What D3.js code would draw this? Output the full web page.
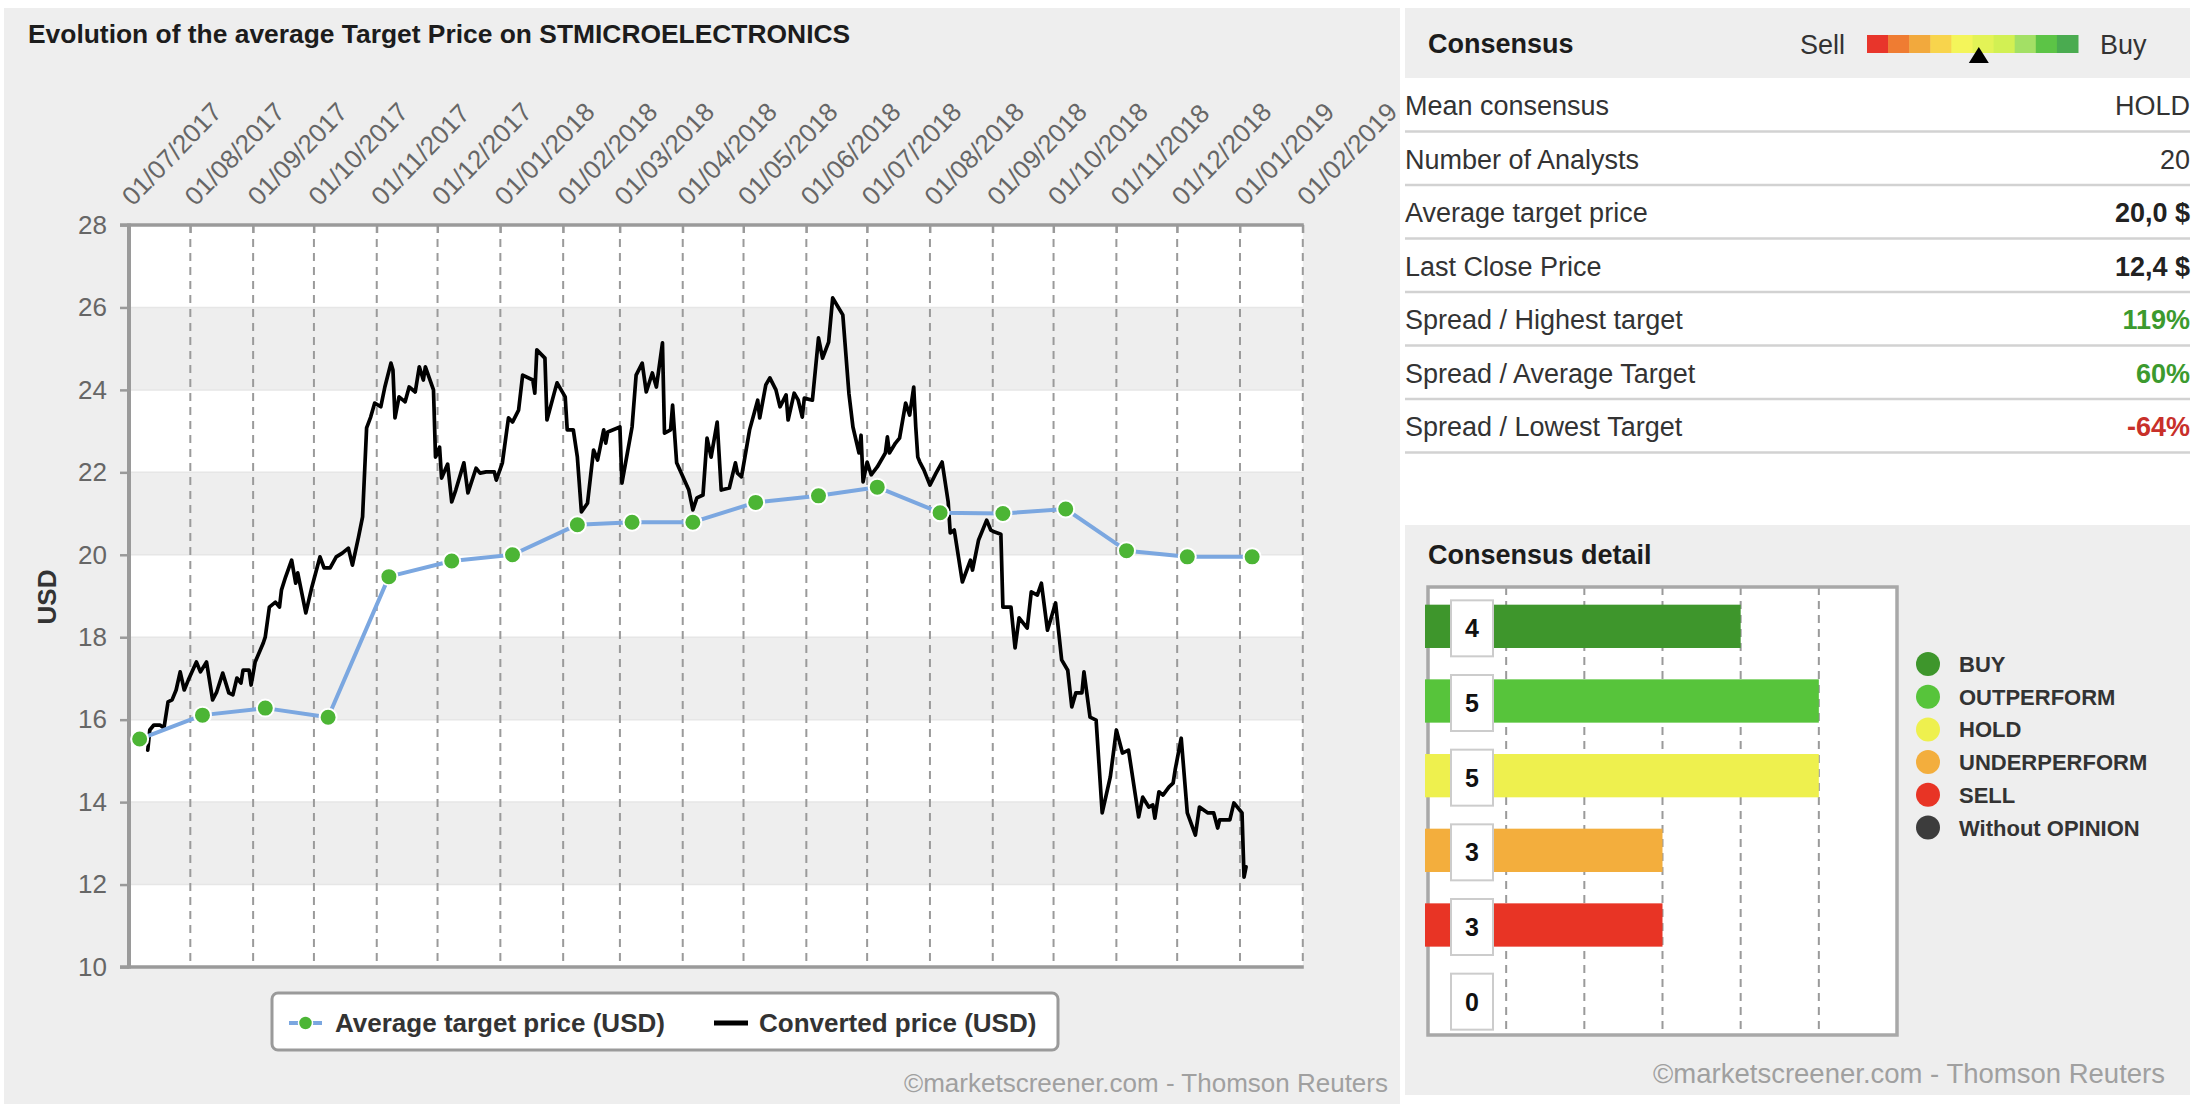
<!DOCTYPE html>
<html>
<head>
<meta charset="utf-8">
<script src="https://cdn.jsdelivr.net/npm/d3@7"></script>
<style>
  html, body { margin: 0; padding: 0; background: #ffffff; }
  svg { display: block; font-family: "Liberation Sans", Arial, Helvetica, sans-serif; }
</style>
</head>
<body>
<svg id="chart" width="2204" height="1104"></svg>
<script>
// ---------------- DATA ----------------
const chartTitle = "Evolution of the average Target Price on STMICROELECTRONICS";
const xTickLabels = ["01/07/2017","01/08/2017","01/09/2017","01/10/2017","01/11/2017","01/12/2017",
  "01/01/2018","01/02/2018","01/03/2018","01/04/2018","01/05/2018","01/06/2018","01/07/2018",
  "01/08/2018","01/09/2018","01/10/2018","01/11/2018","01/12/2018","01/01/2019","01/02/2019"];
const yTicks = [10, 12, 14, 16, 18, 20, 22, 24, 26, 28];
const bandRanges = [[12, 14], [16, 18], [20, 22], [24, 26]];

const targetDates = ["2017-07-07","2017-08-07","2017-09-07","2017-10-08","2017-11-07","2017-12-08",
  "2018-01-07","2018-02-08","2018-03-07","2018-04-06","2018-05-07","2018-06-07","2018-07-06",
  "2018-08-06","2018-09-06","2018-10-07","2018-11-06","2018-12-06","2019-01-07"];
const targetValues = [15.53, 16.11, 16.28, 16.06, 19.47, 19.85, 20.00, 20.73, 20.79, 20.79, 21.27,
  21.43, 21.64, 21.02, 21.00, 21.11, 20.10, 19.95, 19.95];

const priceSeries = [
  ["2017-07-11",15.26],["2017-07-12",15.75],["2017-07-14",15.87],["2017-07-17",15.87],["2017-07-19",15.80],
  ["2017-07-21",16.43],["2017-07-23",16.48],["2017-07-25",16.72],["2017-07-27",17.16],["2017-07-29",16.72],
  ["2017-07-31",16.96],["2017-08-04",17.40],["2017-08-06",17.16],["2017-08-09",17.40],["2017-08-12",16.48],
  ["2017-08-14",16.67],["2017-08-17",17.13],["2017-08-20",16.65],["2017-08-22",16.60],["2017-08-24",17.01],
  ["2017-08-26",16.89],["2017-08-27",17.20],["2017-08-30",17.20],["2017-08-31",16.84],["2017-09-02",17.40],
  ["2017-09-06",17.86],["2017-09-07",18.01],["2017-09-09",18.73],["2017-09-12",18.85],["2017-09-14",18.73],
  ["2017-09-15",19.15],["2017-09-17",19.46],["2017-09-20",19.87],["2017-09-22",19.31],["2017-09-23",19.56],
  ["2017-09-27",18.59],["2017-09-30",19.22],["2017-10-04",19.95],["2017-10-06",19.68],["2017-10-09",19.68],
  ["2017-10-12",19.95],["2017-10-15",20.04],["2017-10-18",20.16],["2017-10-20",19.75],["2017-10-23",20.43],
  ["2017-10-25",20.92],["2017-10-27",23.08],["2017-10-29",23.34],["2017-10-31",23.68],["2017-11-03",23.59],
  ["2017-11-05",24.07],["2017-11-08",24.65],["2017-11-09",24.48],["2017-11-10",23.32],["2017-11-12",23.83],
  ["2017-11-15",23.71],["2017-11-17",24.07],["2017-11-20",23.95],["2017-11-22",24.56],["2017-11-24",24.24],
  ["2017-11-25",24.56],["2017-11-29",24.00],["2017-11-30",22.37],["2017-12-02",22.61],["2017-12-03",21.86],
  ["2017-12-06",22.20],["2017-12-08",21.28],["2017-12-10",21.57],["2017-12-14",22.23],["2017-12-16",21.50],
  ["2017-12-20",22.10],["2017-12-22",21.98],["2017-12-25",22.01],["2017-12-29",22.01],["2017-12-30",21.81],
  ["2018-01-02",22.23],["2018-01-05",23.32],["2018-01-07",23.22],["2018-01-10",23.51],["2018-01-12",24.36],
  ["2018-01-17",24.24],["2018-01-18",23.92],["2018-01-19",24.97],["2018-01-23",24.77],["2018-01-24",23.27],
  ["2018-01-28",24.00],["2018-01-29",24.17],["2018-02-02",23.83],["2018-02-03",23.03],["2018-02-06",23.03],
  ["2018-02-08",22.37],["2018-02-10",21.04],["2018-02-13",21.25],["2018-02-16",22.54],["2018-02-18",22.30],
  ["2018-02-21",23.03],["2018-02-22",22.71],["2018-02-23",22.98],["2018-03-01",23.10],["2018-03-02",21.74],
  ["2018-03-07",23.10],["2018-03-09",24.36],["2018-03-12",24.65],["2018-03-14",23.95],["2018-03-17",24.41],
  ["2018-03-19",24.07],["2018-03-22",25.14],["2018-03-23",22.95],["2018-03-26",23.03],["2018-03-27",23.63],
  ["2018-03-29",22.23],["2018-04-04",21.57],["2018-04-06",21.09],["2018-04-08",21.38],["2018-04-11",21.45],
  ["2018-04-13",22.83],["2018-04-15",22.37],["2018-04-18",23.22],["2018-04-20",21.57],["2018-04-24",21.62],
  ["2018-04-27",22.23],["2018-04-28",21.98],["2018-04-30",21.89],["2018-05-04",23.03],["2018-05-08",23.75],
  ["2018-05-09",23.32],["2018-05-12",24.12],["2018-05-14",24.29],["2018-05-17",24.00],["2018-05-19",23.59],
  ["2018-05-22",23.88],["2018-05-23",23.27],["2018-05-26",23.92],["2018-05-28",23.75],["2018-05-30",23.34],
  ["2018-05-31",23.80],["2018-06-04",23.75],["2018-06-07",25.26],["2018-06-09",24.77],["2018-06-12",25.16],
  ["2018-06-14",26.23],["2018-06-19",25.82],["2018-06-22",23.92],["2018-06-24",23.10],["2018-06-27",22.47],
  ["2018-06-28",22.90],["2018-06-29",21.77],["2018-07-01",22.25],["2018-07-03",21.94],["2018-07-06",22.13],
  ["2018-07-10",22.47],["2018-07-11",22.86],["2018-07-12",22.47],["2018-07-15",22.71],["2018-07-17",22.83],
  ["2018-07-20",23.68],["2018-07-22",23.39],["2018-07-24",24.07],["2018-07-25",23.10],["2018-07-26",22.37],
  ["2018-07-27",22.25],["2018-07-29",22.06],["2018-08-01",21.69],["2018-08-04",21.98],["2018-08-07",22.25],
  ["2018-08-10",21.28],["2018-08-11",20.53],["2018-08-13",20.60],["2018-08-17",19.34],["2018-08-21",19.87],
  ["2018-08-22",19.63],["2018-08-25",20.36],["2018-08-29",20.84],["2018-08-31",20.60],["2018-09-02",20.55],
  ["2018-09-05",20.50],["2018-09-06",18.73],["2018-09-10",18.73],["2018-09-12",17.74],["2018-09-14",18.47],
  ["2018-09-18",18.22],["2018-09-20",19.10],["2018-09-23",19.02],["2018-09-25",19.31],["2018-09-28",18.17],
  ["2018-10-02",18.83],["2018-10-05",17.45],["2018-10-08",17.20],["2018-10-10",16.31],["2018-10-12",16.65],
  ["2018-10-15",16.65],["2018-10-16",17.16],["2018-10-19",16.06],["2018-10-22",15.99],["2018-10-25",13.74],
  ["2018-10-29",14.61],["2018-11-01",15.75],["2018-11-04",15.19],["2018-11-07",15.26],["2018-11-12",13.64],
  ["2018-11-14",14.12],["2018-11-17",13.88],["2018-11-19",13.93],["2018-11-20",13.61],["2018-11-22",14.25],
  ["2018-11-24",14.17],["2018-11-27",14.37],["2018-11-29",14.46],["2018-11-30",14.78],["2018-12-03",15.55],
  ["2018-12-06",13.74],["2018-12-10",13.20],["2018-12-12",13.88],["2018-12-16",13.74],["2018-12-19",13.74],
  ["2018-12-21",13.37],["2018-12-22",13.57],["2018-12-27",13.57],["2018-12-29",13.98],["2019-01-02",13.74],
  ["2019-01-03",12.18],["2019-01-04",12.43]
];

const legendLabels = ["Average target price (USD)", "Converted price (USD)"];
const yAxisTitle = "USD";
const watermark = "\u00A9marketscreener.com - Thomson Reuters";

const gaugeColors = ["#e8352b","#ef7c32","#f2a93d","#f8d44c","#f4f55a","#e3f356","#d2f053","#a3e065","#5cc446","#4aab50"];
const gaugePosition = 5.3; // index position of the marker on the 10-step scale

const tableLabels = ["Mean consensus","Number of Analysts","Average target price","Last Close Price",
  "Spread / Highest target","Spread / Average Target","Spread / Lowest Target"];
const tableValues = ["HOLD","20","20,0 $","12,4 $","119%","60%","-64%"];
const tableBold = [false,false,true,true,true,true,true];
const tableColors = ["#333333","#333333","#222222","#222222","#3c9a2e","#3c9a2e","#c8302a"];

const ratingLabels = ["BUY","OUTPERFORM","HOLD","UNDERPERFORM","SELL","Without OPINION"];
const ratingCounts = [4, 5, 5, 3, 3, 0];
const ratingColors = ["#3e962c","#57c43b","#eef04e","#f3ae3d","#e83425","#3c3c3c"];

// ---------------- DRAW ----------------
const svg = d3.select("#chart");
const parseISO = d3.timeParse("%Y-%m-%d");
const parseTick = d3.timeParse("%d/%m/%Y");
const FONT = '"Liberation Sans", Arial, Helvetica, sans-serif';

// Left panel background
svg.append("rect").attr("x", 4).attr("y", 8).attr("width", 1396).attr("height", 1096).attr("fill", "#eeeeee");

svg.append("text").attr("x", 28).attr("y", 43)
  .attr("font-size", 26.4).attr("font-weight", "bold").attr("fill", "#1c1c1c")
  .text(chartTitle);

const plot = { left: 127.5, right: 1302.8, top: 225, bottom: 967 };
const tickDates = xTickLabels.map(parseTick);
const x = d3.scaleTime().domain([tickDates[0], tickDates[tickDates.length - 1]]).range([plot.left, plot.right]);
const y = d3.scaleLinear().domain([10, 28]).range([plot.bottom, plot.top]);

// plot background + bands
svg.append("rect").attr("x", plot.left).attr("y", plot.top)
  .attr("width", plot.right - plot.left).attr("height", plot.bottom - plot.top).attr("fill", "#ffffff");
svg.append("g").selectAll("rect").data(bandRanges).join("rect")
  .attr("x", plot.left).attr("width", plot.right - plot.left)
  .attr("y", d => y(d[1])).attr("height", d => y(d[0]) - y(d[1]))
  .attr("fill", "#eeeeee");
svg.append("g").selectAll("line").data(yTicks).join("line")
  .attr("x1", plot.left).attr("x2", plot.right)
  .attr("y1", d => y(d)).attr("y2", d => y(d))
  .attr("stroke", "#e6e6e6").attr("stroke-width", 1.5);

// vertical dashed grid
svg.append("g").selectAll("line").data(tickDates.slice(1)).join("line")
  .attr("x1", d => x(d)).attr("x2", d => x(d))
  .attr("y1", plot.top).attr("y2", plot.bottom)
  .attr("stroke", "#9a9a9a").attr("stroke-width", 2).attr("stroke-dasharray", "8,6");

// top x axis
const xAxis = svg.append("g").attr("transform", `translate(0,${plot.top})`)
  .call(d3.axisTop(x).tickValues(tickDates).tickFormat((d, i) => xTickLabels[i]).tickSize(-8).tickSizeOuter(0));
xAxis.select(".domain").remove();
xAxis.selectAll(".tick line").attr("stroke", "#9a9a9a").attr("stroke-width", 2);
xAxis.selectAll(".tick text")
  .attr("x", 0).attr("y", 0).attr("dy", 0)
  .attr("text-anchor", "start")
  .attr("transform", "translate(5,-18) rotate(-46)")
  .attr("font-size", 26).attr("font-family", FONT).attr("fill", "#666666");

// left y axis
const yAxis = svg.append("g").attr("transform", `translate(${plot.left + 1.5},0)`)
  .call(d3.axisLeft(y).tickValues(yTicks).tickSize(9).tickPadding(13).tickSizeOuter(0));
yAxis.select(".domain").remove();
yAxis.selectAll(".tick line").attr("stroke", "#9a9a9a").attr("stroke-width", 2.5);
yAxis.selectAll(".tick text").attr("font-size", 26).attr("font-family", FONT).attr("fill", "#666666");

// frame lines
svg.append("line").attr("x1", 120).attr("x2", plot.right + 1).attr("y1", plot.top).attr("y2", plot.top)
  .attr("stroke", "#9a9a9a").attr("stroke-width", 3.5);
svg.append("line").attr("x1", 120).attr("x2", plot.right + 1).attr("y1", plot.bottom).attr("y2", plot.bottom)
  .attr("stroke", "#9a9a9a").attr("stroke-width", 3.5);
svg.append("line").attr("x1", plot.left + 1.5).attr("x2", plot.left + 1.5).attr("y1", plot.top - 1.5).attr("y2", plot.bottom + 1.5)
  .attr("stroke", "#9a9a9a").attr("stroke-width", 4);

// y axis title
svg.append("text").attr("transform", "translate(56,597) rotate(-90)")
  .attr("text-anchor", "middle").attr("font-size", 26).attr("font-weight", "bold").attr("fill", "#333333")
  .text(yAxisTitle);

// price line
const priceData = priceSeries.map(d => ({ date: parseISO(d[0]), value: d[1] }));
svg.append("path").datum(priceData)
  .attr("d", d3.line().x(d => x(d.date)).y(d => y(d.value)))
  .attr("fill", "none").attr("stroke", "#000000").attr("stroke-width", 3.7)
  .attr("stroke-linejoin", "round").attr("stroke-linecap", "round");

// target line + markers
const targetData = targetDates.map((d, i) => ({ date: parseISO(d), value: targetValues[i] }));
svg.append("path").datum(targetData)
  .attr("d", d3.line().x(d => x(d.date)).y(d => y(d.value)))
  .attr("fill", "none").attr("stroke", "#7ba7e0").attr("stroke-width", 4)
  .attr("stroke-linejoin", "round");
svg.append("g").selectAll("circle").data(targetData).join("circle")
  .attr("cx", d => x(d.date)).attr("cy", d => y(d.value)).attr("r", 8.5)
  .attr("fill", "#4cb535").attr("stroke", "#ffffff").attr("stroke-width", 2);

// legend
const lg = svg.append("g");
lg.append("rect").attr("x", 272).attr("y", 993).attr("width", 786).attr("height", 57).attr("rx", 6)
  .attr("fill", "#ffffff").attr("stroke", "#9a9a9a").attr("stroke-width", 3);
lg.append("line").attr("x1", 289).attr("x2", 322).attr("y1", 1023).attr("y2", 1023)
  .attr("stroke", "#7ba7e0").attr("stroke-width", 3.8);
lg.append("circle").attr("cx", 305.5).attr("cy", 1023).attr("r", 7)
  .attr("fill", "#4cb535").attr("stroke", "#ffffff").attr("stroke-width", 1.5);
lg.append("text").attr("x", 335).attr("y", 1032).attr("font-size", 26).attr("font-weight", "bold")
  .attr("fill", "#333333").text(legendLabels[0]);
lg.append("line").attr("x1", 714).attr("x2", 748).attr("y1", 1023).attr("y2", 1023)
  .attr("stroke", "#000000").attr("stroke-width", 5);
lg.append("text").attr("x", 759).attr("y", 1032).attr("font-size", 26).attr("font-weight", "bold")
  .attr("fill", "#333333").text(legendLabels[1]);

svg.append("text").attr("x", 1388).attr("y", 1092).attr("text-anchor", "end")
  .attr("font-size", 26).attr("fill", "#a0a0a0").text(watermark);

// ---------------- RIGHT: CONSENSUS ----------------
svg.append("rect").attr("x", 1405).attr("y", 8).attr("width", 785).attr("height", 70).attr("fill", "#eeeeee");
svg.append("text").attr("x", 1428).attr("y", 53).attr("font-size", 27).attr("font-weight", "bold")
  .attr("fill", "#1c1c1c").text("Consensus");
svg.append("text").attr("x", 1800).attr("y", 54).attr("font-size", 27).attr("fill", "#333333").text("Sell");
svg.append("text").attr("x", 2100).attr("y", 54).attr("font-size", 27).attr("fill", "#333333").text("Buy");

const gx = d3.scaleLinear().domain([0, gaugeColors.length]).range([1867, 2078]);
svg.append("g").selectAll("rect").data(gaugeColors).join("rect")
  .attr("x", (d, i) => gx(i)).attr("width", (d, i) => gx(i + 1) - gx(i) + 0.5)
  .attr("y", 35).attr("height", 18).attr("fill", d => d);
const mx = gx(gaugePosition);
svg.append("path").attr("d", `M${mx - 10},63 L${mx + 10},63 L${mx},47 Z`).attr("fill", "#000000");

const rowY = d3.scaleLinear().domain([0, 1]).range([105, 158.5]);
const tbl = svg.append("g");
tbl.selectAll("text.lab").data(tableLabels).join("text").attr("class", "lab")
  .attr("x", 1405).attr("y", (d, i) => rowY(i) + 10)
  .attr("font-size", 27).attr("fill", "#333333").text(d => d);
tbl.selectAll("text.val").data(tableValues).join("text").attr("class", "val")
  .attr("x", 2190).attr("y", (d, i) => rowY(i) + 10).attr("text-anchor", "end")
  .attr("font-size", 27).attr("font-weight", (d, i) => tableBold[i] ? "bold" : "normal")
  .attr("fill", (d, i) => tableColors[i]).text(d => d);
tbl.selectAll("line").data(tableLabels).join("line")
  .attr("x1", 1405).attr("x2", 2190)
  .attr("y1", (d, i) => rowY(i) + 26.5).attr("y2", (d, i) => rowY(i) + 26.5)
  .attr("stroke", "#d2d2d2").attr("stroke-width", 2.5);

// ---------------- RIGHT: CONSENSUS DETAIL ----------------
svg.append("rect").attr("x", 1405).attr("y", 525).attr("width", 785).attr("height", 570).attr("fill", "#eeeeee");
svg.append("text").attr("x", 1428).attr("y", 564).attr("font-size", 27).attr("font-weight", "bold")
  .attr("fill", "#1c1c1c").text("Consensus detail");

const bf = { left: 1428, right: 1897, top: 587, bottom: 1035 };
const bx = d3.scaleLinear().domain([0, 6]).range([bf.left, bf.right]);
const by = d3.scaleBand().domain(ratingLabels).range([bf.top + 2, bf.bottom + 2]).paddingInner(0.42).paddingOuter(0.21);

svg.append("rect").attr("x", bf.left).attr("y", bf.top).attr("width", bf.right - bf.left).attr("height", bf.bottom - bf.top)
  .attr("fill", "#ffffff");
svg.append("g").selectAll("line").data([1, 2, 3, 4, 5]).join("line")
  .attr("x1", d => bx(d)).attr("x2", d => bx(d)).attr("y1", bf.top).attr("y2", bf.bottom)
  .attr("stroke", "#9a9a9a").attr("stroke-width", 2).attr("stroke-dasharray", "8,6");
svg.append("rect").attr("x", bf.left).attr("y", bf.top).attr("width", bf.right - bf.left).attr("height", bf.bottom - bf.top)
  .attr("fill", "none").attr("stroke", "#a8a8a8").attr("stroke-width", 3.5);
svg.append("g").selectAll("rect").data(ratingLabels).join("rect")
  .attr("x", bx(0) - 3).attr("y", d => by(d))
  .attr("width", (d, i) => ratingCounts[i] > 0 ? bx(ratingCounts[i]) - bx(0) + 3 : 0)
  .attr("height", by.bandwidth())
  .attr("fill", (d, i) => ratingColors[i]);

const lbl = svg.append("g").selectAll("g").data(ratingLabels).join("g")
  .attr("transform", d => `translate(1472,${by(d) + by.bandwidth() / 2 + 2})`);
lbl.append("rect").attr("x", -21).attr("y", -28).attr("width", 42).attr("height", 56)
  .attr("fill", "#ffffff").attr("stroke", "#cccccc").attr("stroke-width", 2);
lbl.append("text").attr("text-anchor", "middle").attr("y", 9).attr("font-size", 25).attr("font-weight", "bold")
  .attr("fill", "#111111").text((d, i) => ratingCounts[i]);

const ly = d3.scaleLinear().domain([0, 1]).range([664, 696.7]);
const leg2 = svg.append("g").selectAll("g").data(ratingLabels).join("g")
  .attr("transform", (d, i) => `translate(1928,${ly(i)})`);
leg2.append("circle").attr("r", 12).attr("fill", (d, i) => ratingColors[i]);
leg2.append("text").attr("x", 31).attr("y", 8).attr("font-size", 22).attr("font-weight", "bold")
  .attr("fill", "#333333").text(d => d);

svg.append("text").attr("x", 2165).attr("y", 1083).attr("text-anchor", "end")
  .attr("font-size", 27.5).attr("fill", "#a0a0a0").text(watermark);
</script>
</body>
</html>
